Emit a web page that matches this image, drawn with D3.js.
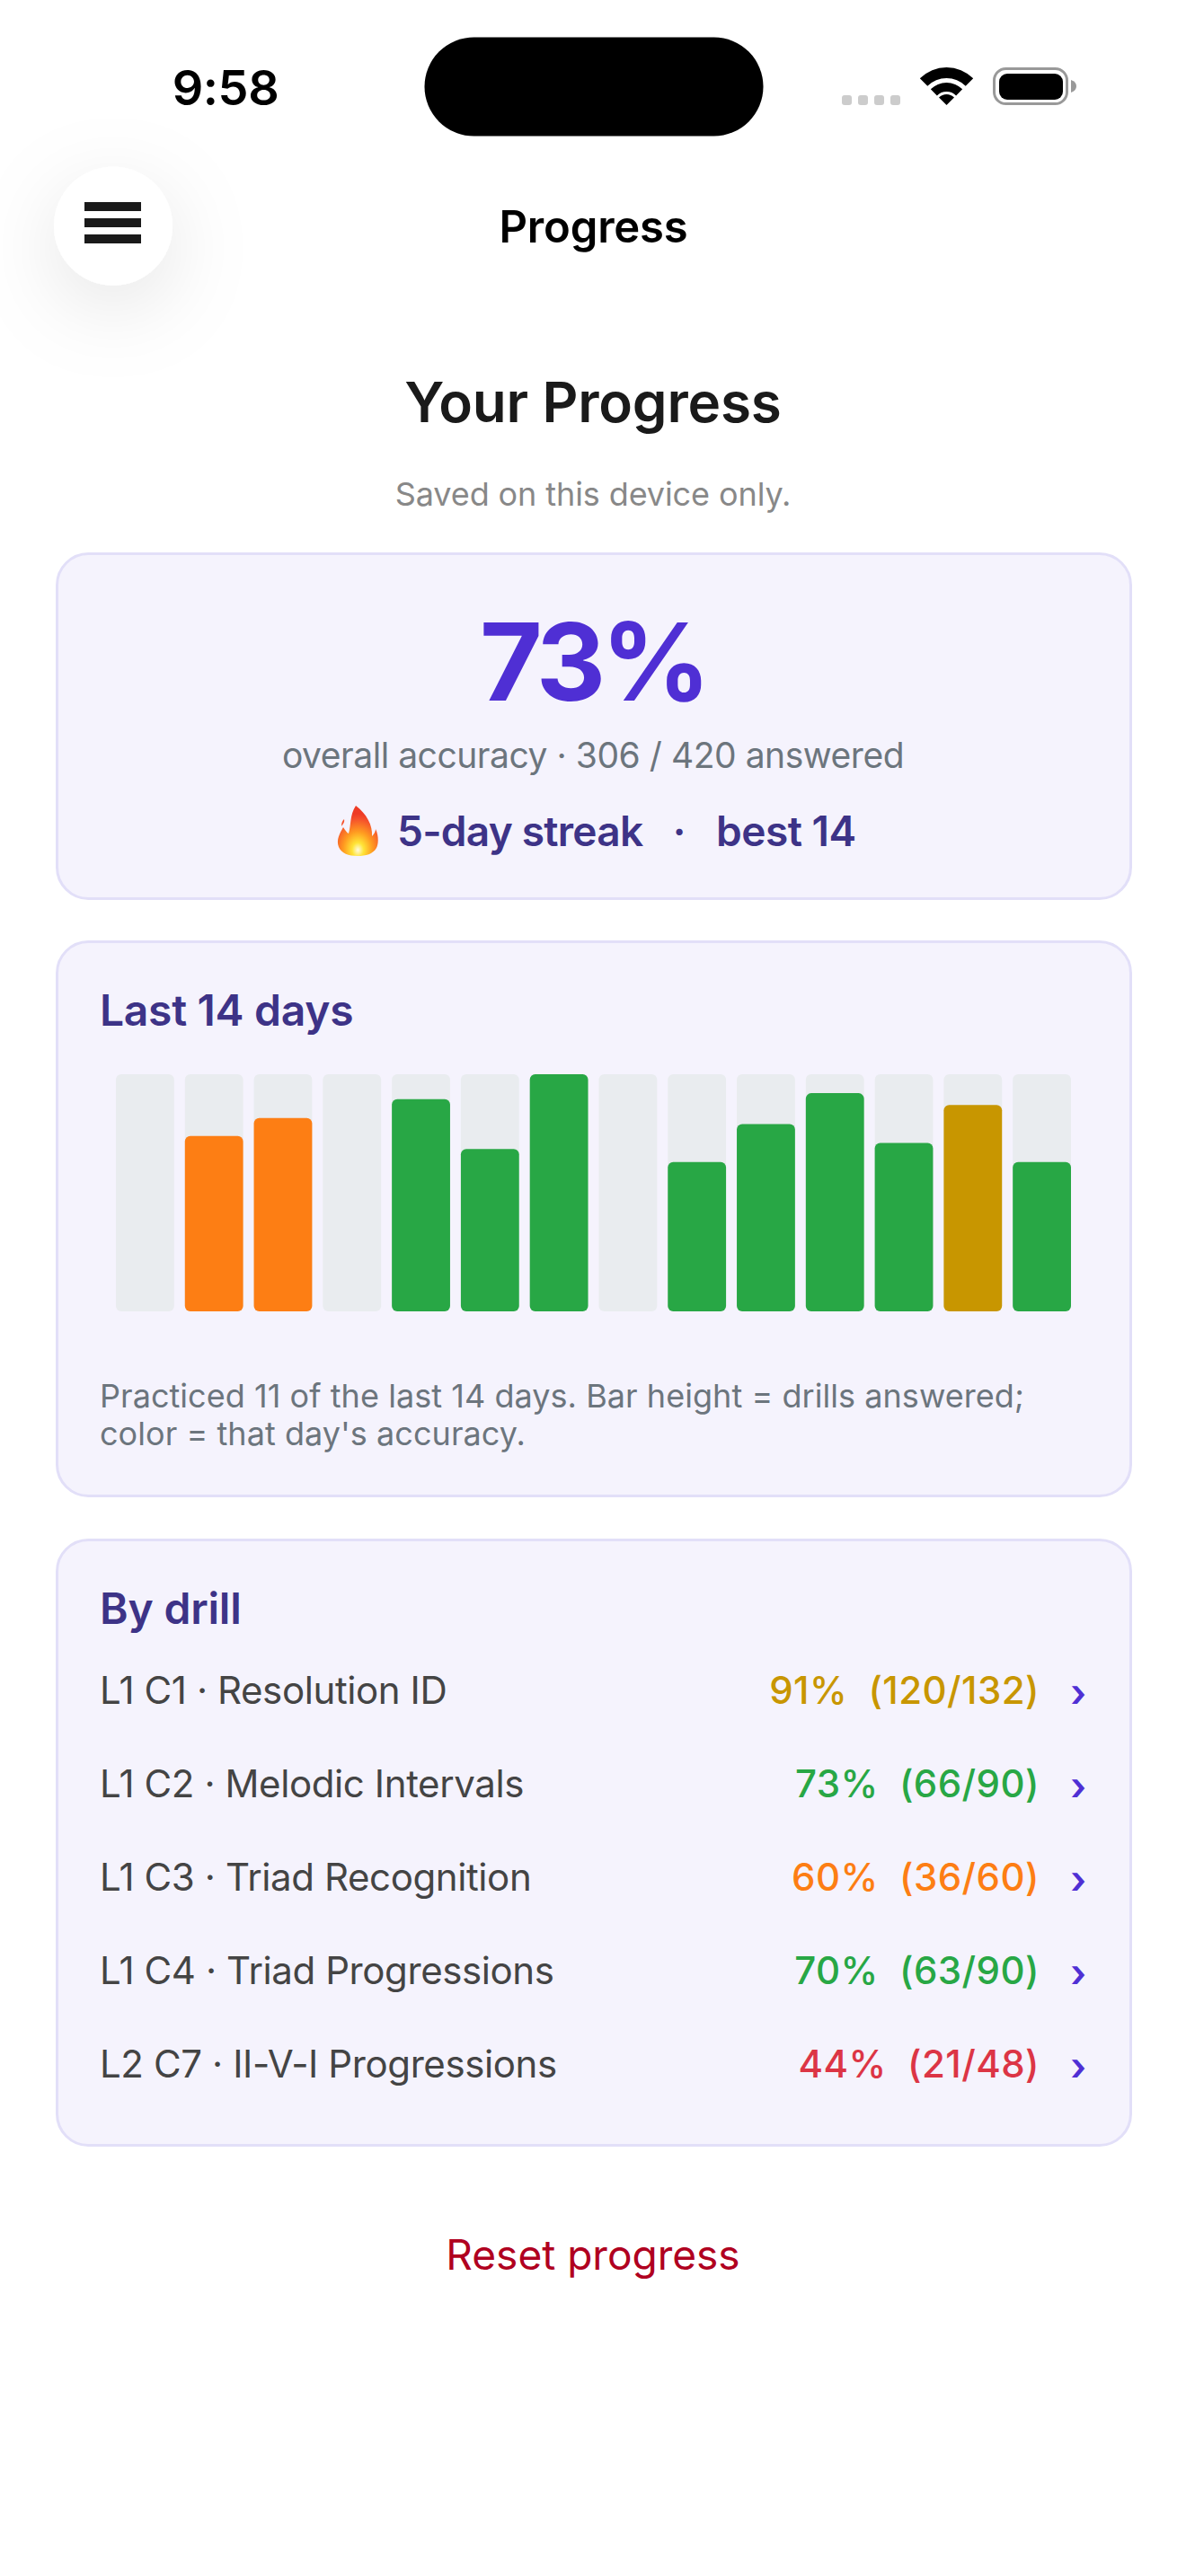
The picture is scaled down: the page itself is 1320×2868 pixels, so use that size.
<!DOCTYPE html>
<html>
<head>
<meta charset="utf-8">
<title>Your Progress</title>
<script src="https://cdn.jsdelivr.net/npm/d3@7"></script>
<style>
  html, body { margin: 0; padding: 0; background: #fff; }
  svg { display: block; }
  text { font-family: Inter, "Noto Sans", sans-serif; }
</style>
</head>
<body>
<div id="chart"></div>
<script>
// values
const days = d3.range(1, 15);
const dayAnswered = [0, 74, 81.5, 0, 89.5, 68.5, 100, 0, 63, 79, 92, 71, 87, 63];
const dayBand = ["none", "low", "low", "none", "ok", "ok", "ok", "none", "ok", "ok", "ok", "ok", "high", "ok"];
const drillNames = ["L1 C1 · Resolution ID", "L1 C2 · Melodic Intervals", "L1 C3 · Triad Recognition", "L1 C4 · Triad Progressions", "L2 C7 · II-V-I Progressions"];
const drillCorrect = [120, 66, 36, 63, 21];
const drillTotal = [132, 90, 60, 90, 48];
const drillBand = ["high", "ok", "low", "ok", "bad"];

const bandColor = d3.scaleOrdinal()
  .domain(["high", "ok", "low", "bad"])
  .range(["#c89600", "#28a745", "#fd7e14", "#dc3545"]);

const svg = d3.select("#chart").append("svg")
  .attr("width", 1320)
  .attr("height", 2868);

const defs = svg.append("defs");
const shadow = defs.append("filter").attr("id", "btn-shadow")
  .attr("x", "-200%").attr("y", "-200%").attr("width", "500%").attr("height", "500%");
shadow.append("feDropShadow")
  .attr("dx", 0).attr("dy", 24).attr("stdDeviation", 45)
  .attr("flood-color", "#000").attr("flood-opacity", 0.1);

const flameFill = defs.append("radialGradient").attr("id", "flame")
  .attr("cx", "50%").attr("cy", "88%").attr("r", "72%");
flameFill.append("stop").attr("offset", "0").attr("stop-color", "#fffbe0");
flameFill.append("stop").attr("offset", "0.2").attr("stop-color", "#ffe437");
flameFill.append("stop").attr("offset", "0.5").attr("stop-color", "#ff9c20");
flameFill.append("stop").attr("offset", "0.85").attr("stop-color", "#f5522b");
flameFill.append("stop").attr("offset", "1").attr("stop-color", "#ee3b25");

const label = (g, x, y, str, size, weight, color, anchor, spacing) => g.append("text")
  .attr("x", x).attr("y", y)
  .attr("font-size", size).attr("font-weight", weight)
  .attr("fill", color).attr("text-anchor", anchor || "start")
  .attr("letter-spacing", spacing || 0)
  .text(str);

// status bar
const status = svg.append("g");
label(status, 251, 117, "9:58", 54, 600, "#000", "middle", -0.4);
status.append("rect").attr("x", 472.5).attr("y", 41.5).attr("width", 377).attr("height", 110).attr("rx", 55).attr("fill", "#000");
status.selectAll(".dot").data([937, 955, 973, 991]).join("rect")
  .attr("class", "dot")
  .attr("x", d => d).attr("y", 106).attr("width", 11).attr("height", 11).attr("rx", 3).attr("fill", "#ccc");
const arc = d3.arc().startAngle(-Math.PI / 4).endAngle(Math.PI / 4);
const wifi = status.append("g").attr("transform", "translate(1053.5,117)");
wifi.selectAll("path").data([[30, 42], [15, 25], [0, 12]]).join("path")
  .attr("d", d => arc({ innerRadius: d[0], outerRadius: d[1] }))
  .attr("fill", "#000");
status.append("rect").attr("x", 1106.5).attr("y", 76.5).attr("width", 81).attr("height", 39).attr("rx", 13).attr("fill", "none").attr("stroke", "#999").attr("stroke-width", 3);
status.append("rect").attr("x", 1112).attr("y", 82).attr("width", 71).attr("height", 29).attr("rx", 9).attr("fill", "#000");
status.append("path").attr("d", "M1192 89 q6 2 6 7 t-6 7 z").attr("fill", "#999");

// header
svg.append("circle").attr("cx", 126).attr("cy", 251.7).attr("r", 66).attr("fill", "#fff").attr("filter", "url(#btn-shadow)");
svg.selectAll(".burger").data([225, 243, 261]).join("rect")
  .attr("class", "burger")
  .attr("x", 94).attr("y", d => d).attr("width", 63).attr("height", 10).attr("fill", "#1a1a1a");
label(svg, 660.5, 270, "Progress", 49, 600, "#000", "middle", -0.2);
label(svg, 660, 470, "Your Progress", 62, 600, "#1a1a1a", "middle", -0.2);
label(svg, 660, 563, "Saved on this device only.", 36, 400, "#888", "middle", -0.1);

const card = (y, h) => svg.append("rect")
  .attr("x", 63.5).attr("y", y + 1.5).attr("width", 1195).attr("height", h - 3).attr("rx", 35)
  .attr("fill", "#f5f3fd").attr("stroke", "#e2dff8").attr("stroke-width", 3);

// summary card
card(615, 387);
label(svg, 660, 780, "73%", 120, 700, "#4f2fd4", "middle", -5);
label(svg, 660, 855, "overall accuracy · 306 / 420 answered", 39, 400, "#6c757d", "middle", -0.46);
const flame = svg.append("g").attr("transform", "translate(398,953)");
flame.append("path")
  .attr("d", "M-2 -56 C10 -47 17 -34 16 -22 C19 -25 20 -28 20 -30 C24 -22 23 -12 21 -9 C17 -2 9 0 0 0 C-10 0 -18 -3 -21 -10 C-24 -18 -20 -25 -16 -32 C-14 -29 -12 -26 -10 -25 C-7 -35 -9 -45 -2 -56 Z")
  .attr("fill", "url(#flame)");
flame.append("path").attr("d", "M-15 -41 C-14 -37 -17 -35 -18 -33 C-18 -37 -17 -39 -15 -41 Z").attr("fill", "#f5522b");
label(svg, 442, 942, "5-day streak", 46, 600, "#3d3387", "start", -0.75);
label(svg, 756, 942, "·", 46, 600, "#3d3387", "middle");
label(svg, 797, 942, "best 14", 46, 600, "#3d3387", "start", -0.5);

// last 14 days card
card(1047, 620);
label(svg, 111, 1142, "Last 14 days", 48, 600, "#3d3387", "start", -0.3);

const x = d3.scaleBand().domain(days).range([129, 1192]).paddingInner(12 / 77);
const y = d3.scaleLinear().domain([0, d3.max(dayAnswered)]).range([1460, 1196]);

const plot = svg.append("g");
plot.selectAll(".track").data(days).join("rect")
  .attr("class", "track")
  .attr("x", d => x(d)).attr("y", y(100)).attr("width", x.bandwidth()).attr("height", y(0) - y(100))
  .attr("rx", 6).attr("fill", "#e9ecef");
plot.selectAll(".bar").data(days.filter((d, i) => dayAnswered[i] > 0)).join("rect")
  .attr("class", "bar")
  .attr("x", d => x(d)).attr("y", d => y(dayAnswered[d - 1]))
  .attr("width", x.bandwidth()).attr("height", d => y(0) - y(dayAnswered[d - 1]))
  .attr("rx", 6).attr("fill", d => bandColor(dayBand[d - 1]));

label(svg, 111, 1567, "Practiced 11 of the last 14 days. Bar height = drills answered;", 36, 400, "#6c757d", "start", 0.05);
label(svg, 111, 1609, "color = that day's accuracy.", 36, 400, "#6c757d", "start", 0.05);

// by drill card
card(1713, 677);
label(svg, 111, 1808, "By drill", 48, 600, "#3d3387", "start", -0.2);

const rowY = d3.scalePoint().domain(d3.range(drillNames.length)).range([1897, 2313]);
const pct = i => Math.round(100 * drillCorrect[i] / drillTotal[i]) + "%";
const rows = svg.selectAll(".row").data(drillNames).join("g")
  .attr("class", "row")
  .attr("transform", (d, i) => `translate(0,${rowY(i)})`);
rows.append("text").attr("x", 111).attr("font-size", 42).attr("fill", "#444").attr("letter-spacing", -0.4).text(d => d);
rows.append("text").attr("x", 1157).attr("text-anchor", "end").attr("font-size", 42).attr("font-weight", 500)
  .attr("fill", (d, i) => bandColor(drillBand[i]))
  .attr("letter-spacing", 0.45)
  .style("white-space", "pre")
  .text((d, i) => `${pct(i)}  (${drillCorrect[i]}/${drillTotal[i]})`);
rows.append("text").attr("x", 1209).attr("y", 2.6).attr("text-anchor", "end").attr("font-size", 43).attr("font-weight", 600).attr("fill", "#4f2fd4").text("›");

label(svg, 660, 2527, "Reset progress", 46, 400, "#b00020", "middle");
</script>
</body>
</html>
